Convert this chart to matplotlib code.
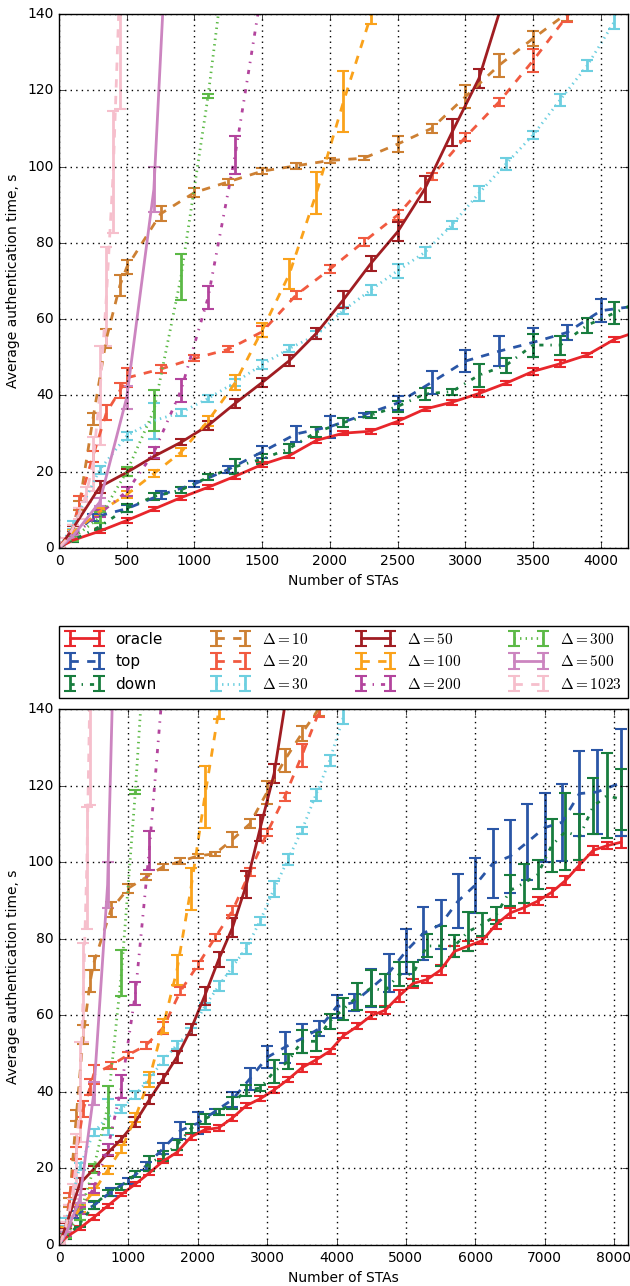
import matplotlib
matplotlib.use('Agg')
import matplotlib.pyplot as plt

plt.style.use('classic')
plt.rcParams['mathtext.fontset'] = 'cm'
plt.rcParams['figure.facecolor'] = 'white'
plt.rcParams['savefig.facecolor'] = 'white'

# --- data: number of STAs vs average authentication time (s), with error ---
oracle_x = [10, 100, 300, 500, 700, 900, 1100, 1300, 1500, 1700, 1900, 2100, 2300, 2500,
            2700, 2900, 3100, 3300, 3500, 3700, 3900, 4100, 4300, 4500, 4700, 4900, 5100,
            5300, 5500, 5700, 5900, 6100, 6300, 6500, 6700, 6900, 7100, 7300, 7500, 7700,
            7900, 8100]
oracle_y = [0.3, 2.0, 4.4, 7.2, 10.2, 13.2, 15.9, 18.8, 21.9, 24.2, 28.2, 30.1, 30.6, 33.2,
            36.4, 38.2, 40.5, 43.2, 46.3, 48.3, 50.6, 54.7, 57.1, 59.9, 61.3, 65.0, 68.3,
            69.3, 71.8, 76.7, 78.1, 79.5, 83.7, 86.7, 88.1, 89.8, 92.1, 95.2, 99.2, 103.1,
            104.3, 105.2]
oracle_e = [0.2, 0.4, 0.5, 0.6, 0.5, 0.5, 0.5, 0.6, 0.6, 0.6, 0.7, 0.6, 0.7, 0.8, 0.6, 0.6,
            0.8, 0.6, 1.0, 0.9, 0.6, 0.6, 0.8, 0.9, 1.0, 1.5, 1.2, 1.0, 1.3, 1.5, 1.2, 1.0,
            1.2, 1.3, 1.3, 1.0, 1.2, 1.2, 1.3, 1.2, 1.0, 1.5]

top_x = [10, 250, 500, 750, 1000, 1250, 1500, 1750, 2000, 2250, 2500, 2750, 3000, 3250,
         3500, 3750, 4000, 4250, 4500, 4750, 5000, 5250, 5500, 5750, 6000, 6250, 6500,
         6750, 7000, 7250, 7500, 7750, 8100]
top_y = [0.3, 8.0, 10.3, 13.9, 16.8, 20.6, 25.2, 29.9, 31.8, 34.9, 38.0, 43.4, 49.0, 51.6,
         53.9, 56.5, 62.2, 63.4, 67.1, 71.0, 76.7, 81.4, 83.7, 89.8, 94.0, 99.6, 101.5,
         105.2, 109.0, 110.4, 117.9, 118.3, 120.7]
top_e = [0.2, 1.0, 1.0, 1.0, 0.8, 1.0, 1.5, 2.2, 2.9, 0.6, 1.9, 2.9, 2.9, 4.0, 3.8, 1.9,
         3.0, 2.2, 4.9, 5.0, 5.8, 7.0, 6.3, 7.0, 7.2, 9.0, 9.6, 10.0, 9.0, 10.0, 11.0,
         11.0, 14.0]

down_x = oracle_x
down_y = [0.3, 2.0, 5.6, 10.4, 13.5, 15.2, 18.5, 21.3, 23.3, 26.1, 30.4, 32.9, 34.8, 37.1,
          40.4, 41.0, 45.3, 47.9, 53.2, 53.2, 58.4, 61.6, 64.9, 67.1, 66.4, 70.7, 70.7,
          78.1, 78.1, 78.1, 81.9, 83.7, 86.1, 92.6, 94.5, 96.8, 104.3, 108.0, 106.6,
          114.6, 117.4, 116.4]
down_e = [0.2, 0.5, 1.0, 1.0, 0.8, 0.8, 0.8, 2.0, 1.3, 1.2, 1.2, 1.3, 0.8, 1.5, 1.5, 0.8,
          3.0, 2.0, 3.0, 2.5, 2.0, 2.8, 3.6, 4.8, 4.3, 3.1, 3.1, 3.0, 5.3, 2.8, 5.1, 3.1,
          2.3, 4.1, 5.1, 3.8, 7.0, 10.0, 6.0, 7.3, 11.0, 8.0]

d10_x = [10, 100, 150, 250, 350, 450, 500, 750, 1000, 1250, 1500, 1750, 2000, 2250, 2500,
         2750, 3000, 3250, 3500, 3750, 4000]
d10_y = [0.5, 5, 11.2, 33.8, 54.9, 68.9, 73.6, 87.6, 93.2, 96.0, 98.8, 100.2, 101.6, 102.2,
         105.9, 110.0, 118.3, 126.6, 133.6, 140.2, 147]
d10_e = [0.3, 1, 1.2, 1.5, 2.5, 2.8, 1.8, 2.0, 1.2, 0.8, 0.8, 0.8, 0.6, 0.5, 2.0, 1.2, 3.0,
         3.0, 2.0, 2.0, 2.0]

d20_x = d10_x
d20_y = [0.5, 5, 12, 24, 35.5, 41.3, 44.6, 46.9, 49.7, 52.1, 56.7, 66.3, 73.1, 80.3, 87.3,
         97.4, 107.7, 117.0, 127.8, 139.4, 150]
d20_e = [0.3, 1, 1.5, 1.5, 2, 2, 2.5, 1, 0.8, 0.8, 1.5, 1, 1, 1, 1.2, 1, 1, 1, 3, 1.5, 2]

d30_x = [10, 100, 300, 500, 700, 900, 1100, 1300, 1500, 1700, 1900, 2100, 2300, 2500, 2700,
         2900, 3100, 3300, 3500, 3700, 3900, 4100]
d30_y = [0.5, 6, 20.5, 29.4, 33.4, 35.5, 39.2, 43.4, 48.1, 52.3, 55.8, 62.3, 67.6, 72.7,
         77.5, 84.7, 93.0, 100.7, 108.3, 117.5, 126.5, 138.0]
d30_e = [0.3, 1, 1, 1, 4.7, 1, 1, 1, 1.2, 1, 1, 1, 1.3, 1.8, 1.5, 1, 2, 1.5, 1, 1.5, 1.5, 2]

d50_x = [10, 100, 300, 500, 700, 900, 1100, 1300, 1500, 1700, 1900, 2100, 2300, 2500, 2700,
         2900, 3100, 3300]
d50_y = [0.5, 5, 16, 19.8, 24, 27.7, 32.1, 37.9, 43.4, 49.1, 56.3, 65.1, 74.5, 82.9, 94.1,
         108.9, 123.1, 146]
d50_e = [0.3, 0.8, 1.5, 0.8, 0.8, 0.8, 1.2, 1.2, 1.2, 1.5, 1.5, 2.3, 2.0, 2.5, 3.5, 3.5,
         2.5, 3]

d100_x = [10, 100, 300, 500, 700, 900, 1100, 1300, 1500, 1700, 1900, 2100, 2300, 2500]
d100_y = [0.5, 4, 9.5, 14.0, 19.5, 25.1, 33.3, 43.3, 57.1, 71.8, 93.0, 117.0, 139.3, 170]
d100_e = [0.3, 0.8, 1, 1, 1, 1, 1.2, 2, 1.8, 4, 5.5, 8, 2, 3]

d200_x = [10, 100, 300, 500, 700, 900, 1100, 1300, 1500]
d200_y = [0.5, 3, 9, 14.8, 25, 41.3, 65.6, 103, 147]
d200_e = [0.2, 0.8, 1, 1.2, 1.5, 3, 3, 5, 4]

d300_x = [10, 100, 300, 500, 700, 900, 1100, 1300]
d300_y = [0.5, 2.5, 8, 20, 36, 71, 118.4, 175]
d300_e = [0.2, 0.6, 1.5, 1.2, 5.4, 6, 0.5, 3]

d500_x = [10, 100, 300, 500, 700, 900]
d500_y = [0.3, 3, 12, 39.5, 94, 235]
d500_e = [0.2, 0.5, 1, 3, 6, 5]

d1023_x = [10, 50, 100, 150, 200, 250, 300, 350, 400, 450]
d1023_y = [0.5, 2, 5, 9, 14, 22, 40, 66, 98.5, 150]
d1023_e = [0.3, 0.5, 1, 1.5, 2, 7, 13, 13, 16, 35]

series = [
    ('oracle', oracle_x, oracle_y, oracle_e, '#e8262b', '-'),
    ('top', top_x, top_y, top_e, '#2a56a6', '--'),
    ('down', down_x, down_y, down_e, '#187d3e', '-.'),
    (r'$\Delta=10$', d10_x, d10_y, d10_e, '#cd8033', '--'),
    (r'$\Delta=20$', d20_x, d20_y, d20_e, '#f15a40', '--'),
    (r'$\Delta=30$', d30_x, d30_y, d30_e, '#6dcfe0', ':'),
    (r'$\Delta=50$', d50_x, d50_y, d50_e, '#a01d22', '-'),
    (r'$\Delta=100$', d100_x, d100_y, d100_e, '#faa21b', '--'),
    (r'$\Delta=200$', d200_x, d200_y, d200_e, '#b3449d', '-.'),
    (r'$\Delta=300$', d300_x, d300_y, d300_e, '#5cb946', ':'),
    (r'$\Delta=500$', d500_x, d500_y, d500_e, '#cc85c0', '-'),
    (r'$\Delta=1023$', d1023_x, d1023_y, d1023_e, '#f6bfcc', '--'),
]


def draw(ax, xmax, xticks):
    handles = []
    for label, x, y, e, color, ls in series:
        h = ax.errorbar(x, y, yerr=e, color=color, ecolor=color, linestyle=ls,
                        linewidth=2, elinewidth=2, capsize=4, capthick=1.5,
                        label=label)
        handles.append(h)
    ax.set_xlim(0, xmax)
    ax.set_ylim(0, 140)
    ax.set_xticks(xticks)
    ax.set_yticks(range(0, 141, 20))
    ax.grid(True, color='black', linestyle=':', linewidth=1)
    ax.tick_params(labelsize=10)
    ax.set_xlabel('Number of STAs', fontsize=10)
    ax.set_ylabel('Average authentication time, s', fontsize=10)
    return handles


fig = plt.figure(figsize=(6.3, 12.86), dpi=100)
ax1 = fig.add_axes([0.0937, 0.5739, 0.903, 0.4152])
ax2 = fig.add_axes([0.0937, 0.0319, 0.903, 0.4168])

handles = draw(ax1, 4200, range(0, 4001, 500))
draw(ax2, 8200, range(0, 8001, 1000))

fig.legend(handles, [s[0] for s in series], ncol=4, loc='lower left',
           bbox_to_anchor=(0.0937, 0.4572, 0.903, 0.0591), mode='expand',
           borderaxespad=0, fontsize=11, handlelength=2.5, numpoints=2)

fig.savefig('out.png', dpi=100)
